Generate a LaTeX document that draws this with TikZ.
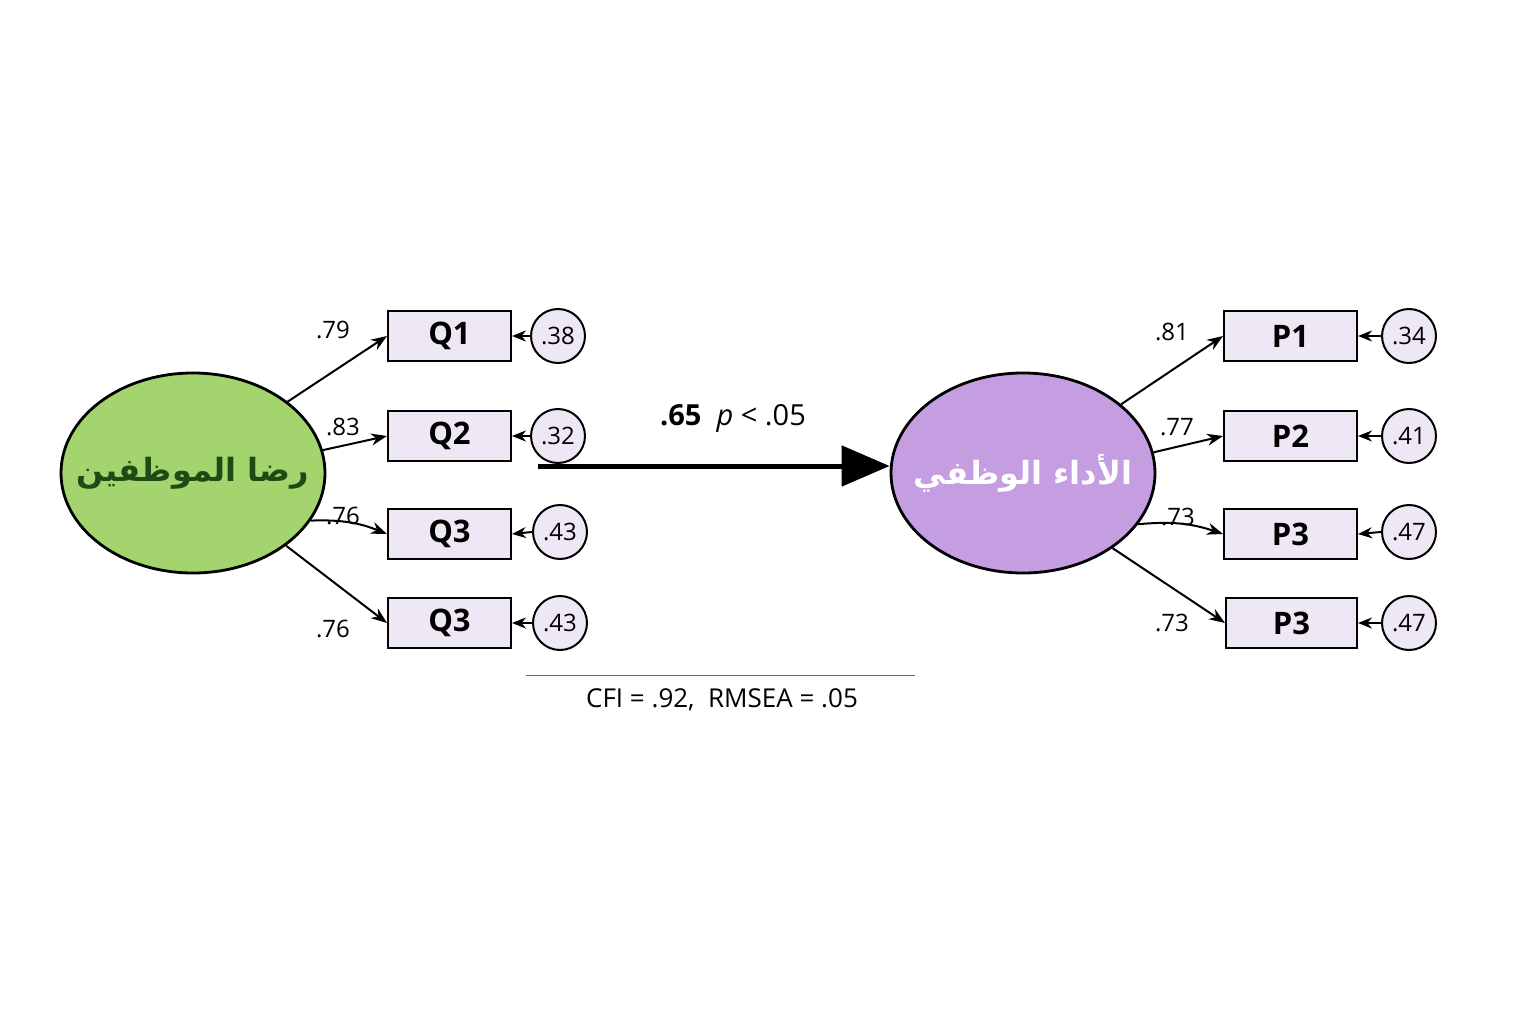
\documentclass[tikz,border=0pt]{standalone}
\usepackage{fontspec}
\setmainfont{Open Sans}
\newfontfamily\arab[Script=Arabic]{DejaVu Sans}
\usetikzlibrary{arrows.meta,shapes.geometric}
\TeXXeTstate=1
\definecolor{gfill}{HTML}{A3D46E}
\definecolor{pfill}{HTML}{C49EE0}
\definecolor{bfill}{HTML}{EEE7F4}
\definecolor{gtxt}{HTML}{1E4A14}
\begin{document}
\begin{tikzpicture}[x=1pt,y=-1pt,
 lat/.style={ellipse,draw=black,line width=2.8pt,minimum width=264pt,minimum height=200pt,inner sep=0pt},
 box/.style={rectangle,draw=black,line width=2pt,fill=bfill,minimum width=123pt,minimum height=50pt,font=\fontsize{31}{33}\selectfont\bfseries},
 err/.style={circle,draw=black,line width=2pt,fill=bfill,minimum size=54pt,inner sep=0pt,font=\fontsize{24}{26}\selectfont},
 ld/.style={-{Stealth[length=16pt,width=12pt]},line width=2pt},
 ea/.style={-{Stealth[length=14pt,width=11pt]},line width=2pt},
 lab/.style={font=\fontsize{24}{26}\selectfont}]
\useasboundingbox[fill=white] (0,0) rectangle (1536,1024);
\node[lat,fill=gfill] (L) at (193,473) {};
\node[lat,fill=pfill] (R) at (1023,473) {};
\node (Lt) at (L.center) {\arab\fontsize{32}{34}\selectfont\bfseries\color{gtxt}\beginR رضا الموظفين\endR};
\node (Rt) at (R.center) {\arab\fontsize{32}{34}\selectfont\bfseries\color{white}\beginR الأداء الوظفي\endR};
\node[box] (Q1) at (449.5,336) {Q1};
\node[box] (Q2) at (449.5,436) {Q2};
\node[box] (Q3) at (449.5,534) {Q3};
\node[box] (Q4) at (449.5,623) {Q3};
\node[err] (e1) at (558,336) {.38};
\node[err] (e2) at (558,436) {.32};
\node[err] (e3) at (560,532) {.43};
\node[err] (e4) at (560,623) {.43};
\node[box,minimum width=133pt] (P1) at (1290.5,336) {P1};
\node[box,minimum width=133pt] (P2) at (1290.5,436) {P2};
\node[box,minimum width=133pt] (P3) at (1290.5,534) {P3};
\node[box,minimum width=131pt] (P4) at (1291.5,623) {P3};
\node[err] (f1) at (1409,336) {.34};
\node[err] (f2) at (1409,436) {.41};
\node[err] (f3) at (1409,532) {.47};
\node[err] (f4) at (1409,623) {.47};
\draw[ld] (L.37) -- (Q1.west);
\draw[ld] (L.10) -- (Q2.west);
\draw[ld] (L.-22) to[bend left=12] (Q3.west);
\draw[ld] (L.-38) -- (Q4.west);
\draw[ld] (R.35) -- (P1.west);
\draw[ld] (R.9) -- (P2.west);
\draw[ld] (R.-24) to[bend left=12] (P3.west);
\draw[ld] (R.-40) -- (P4.west);
\foreach \a/\b in {e1/Q1,e2/Q2,e3/Q3,e4/Q4,f1/P1,f2/P2,f3/P3,f4/P4}
  \draw[ea] (\a.west) -- (\b.east);
\node[lab] (l1) at (333,330) {.79};
\node[lab] (l2) at (343,427) {.83};
\node[lab] (l3) at (343,516) {.76};
\node[lab] (l4) at (333,629) {.76};
\node[lab] (r1) at (1172,332) {.81};
\node[lab] (r2) at (1177,427) {.77};
\node[lab] (r3) at (1178,517) {.73};
\node[lab] (r4) at (1172,623) {.73};
\coordinate (s) at (538,466);
\draw[-{Triangle[length=48pt,width=40pt]},line width=5pt] (s) -- (s -| R.west);
\node[font=\fontsize{29}{31}\selectfont] (c) at (733,418) {\textbf{.65}\ \ \textit{p} < .05};
\coordinate (h1) at (526,675); \coordinate (h2) at (915,675);
\draw[line width=0.8pt,black!60] (h1) -- (h2);
\node[font=\fontsize{26}{28}\selectfont] (fit) at (722,700) {CFI = .92,\ \ RMSEA = .05};
\end{tikzpicture}
\end{document}
